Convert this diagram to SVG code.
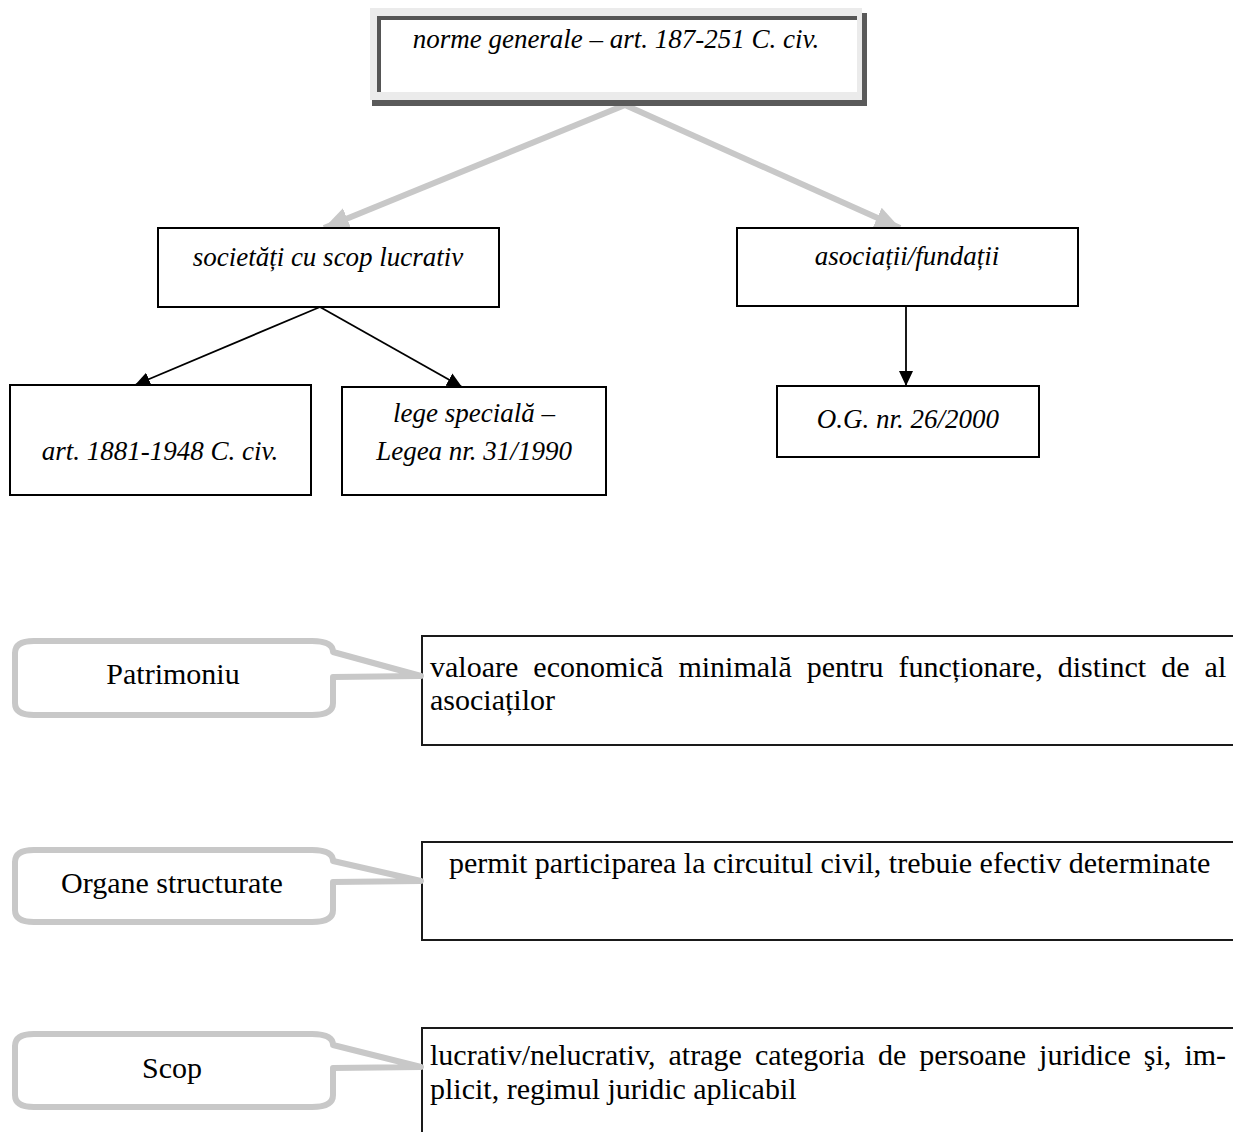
<svg xmlns="http://www.w3.org/2000/svg" width="1233" height="1132" viewBox="0 0 1233 1132">
<style>
.box{fill:#fff;stroke:#000;stroke-width:2}
.tbox{fill:#fff;stroke:#1a1a1a;stroke-width:2}
.it{font-family:"Liberation Serif","Times New Roman",serif;font-style:italic;font-size:27px;fill:#000}
.rm{font-family:"Liberation Serif","Times New Roman",serif;font-size:30px;fill:#000}
.callout{fill:#fff;stroke:#c8c8c8;stroke-width:6;stroke-linejoin:round}
.garrow{stroke:#c8c8c8;stroke-width:6;fill:none}
.barrow{stroke:#000;stroke-width:1.8;fill:none}
</style>
<defs>
<marker id="gh" markerUnits="userSpaceOnUse" markerWidth="28" markerHeight="28" viewBox="0 0 28 28" refX="25" refY="14" orient="auto">
<path d="M0,3 L25,14 L0,25 Z" fill="#c8c8c8"/>
</marker>
<marker id="bh" markerUnits="userSpaceOnUse" markerWidth="16" markerHeight="16" viewBox="0 0 16 16" refX="15" refY="8" orient="auto">
<path d="M0,1 L15,8 L0,15 Z" fill="#000"/>
</marker>
</defs>

<g id="connectors">
<line class="garrow" x1="625" y1="105" x2="324" y2="228" marker-end="url(#gh)"/>
<line class="garrow" x1="625" y1="105" x2="900" y2="228" marker-end="url(#gh)"/>
<line class="barrow" x1="320" y1="307" x2="135" y2="385" marker-end="url(#bh)"/>
<line class="barrow" x1="320" y1="307" x2="462" y2="387" marker-end="url(#bh)"/>
<line class="barrow" x1="906" y1="306" x2="906" y2="386" marker-end="url(#bh)"/>
</g>

<g id="node-norme">
<rect x="372" y="13" width="495" height="93" fill="#5a5a5a"/>
<rect x="370" y="8" width="492" height="92" fill="#ebebeb"/>
<rect x="377" y="16" width="480" height="76" fill="#555"/>
<rect x="381" y="20" width="476" height="72" fill="#fff"/>
<text class="it" x="616" y="48" text-anchor="middle">norme generale – art. 187-251 C. civ.</text>
</g>

<g id="node-societati">
<rect class="box" x="158" y="228" width="341" height="79"/>
<text class="it" x="328" y="266" text-anchor="middle">societăți cu scop lucrativ</text>
</g>

<g id="node-asociatii">
<rect class="box" x="737" y="228" width="341" height="78"/>
<text class="it" x="907" y="265" text-anchor="middle">asociații/fundații</text>
</g>

<g id="node-art1881">
<rect class="box" x="10" y="385" width="301" height="110"/>
<text class="it" x="160" y="460" text-anchor="middle">art. 1881-1948 C. civ.</text>
</g>

<g id="node-lege">
<rect class="box" x="342" y="387" width="264" height="108"/>
<text class="it" x="474" y="422" text-anchor="middle">lege specială –</text>
<text class="it" x="474" y="460" text-anchor="middle">Legea nr. 31/1990</text>
</g>

<g id="node-og">
<rect class="box" x="777" y="386" width="262" height="71"/>
<text class="it" x="908" y="428" text-anchor="middle">O.G. nr. 26/2000</text>
</g>

<g id="node-patrimoniu-desc">
<rect class="tbox" x="422" y="636" width="830" height="109"/>
<text class="rm" x="430" y="677" word-spacing="7.6">valoare economică minimală pentru funcționare, distinct de al</text>
<text class="rm" x="430" y="710">asociaților</text>
</g>
<g id="node-patrimoniu">
<path class="callout" d="M34,641 H312 Q333,641 333,652 L421,676 L333,677 V703 Q333,715 312,715 H34 Q15,715 15,703 V653 Q15,641 34,641 Z"/>
<text class="rm" x="173" y="684" text-anchor="middle">Patrimoniu</text>
</g>

<g id="node-organe-desc">
<rect class="tbox" x="422" y="842" width="830" height="98"/>
<text class="rm" x="449" y="873">permit participarea la circuitul civil, trebuie efectiv determinate</text>
</g>
<g id="node-organe">
<path class="callout" d="M34,850 H312 Q333,850 333,861 L421,881 L333,882 V910 Q333,922 312,922 H34 Q15,922 15,910 V862 Q15,850 34,850 Z"/>
<text class="rm" x="172" y="893" text-anchor="middle">Organe structurate</text>
</g>

<g id="node-scop-desc">
<rect class="tbox" x="422" y="1028" width="830" height="120"/>
<text class="rm" x="430" y="1065" word-spacing="5.6">lucrativ/nelucrativ, atrage categoria de persoane juridice şi, im-</text>
<text class="rm" x="430" y="1099">plicit, regimul juridic aplicabil</text>
</g>
<g id="node-scop">
<path class="callout" d="M34,1034 H312 Q333,1034 333,1045 L421,1067 L333,1068 V1095 Q333,1107 312,1107 H34 Q15,1107 15,1095 V1046 Q15,1034 34,1034 Z"/>
<text class="rm" x="172" y="1078" text-anchor="middle">Scop</text>
</g>
</svg>
